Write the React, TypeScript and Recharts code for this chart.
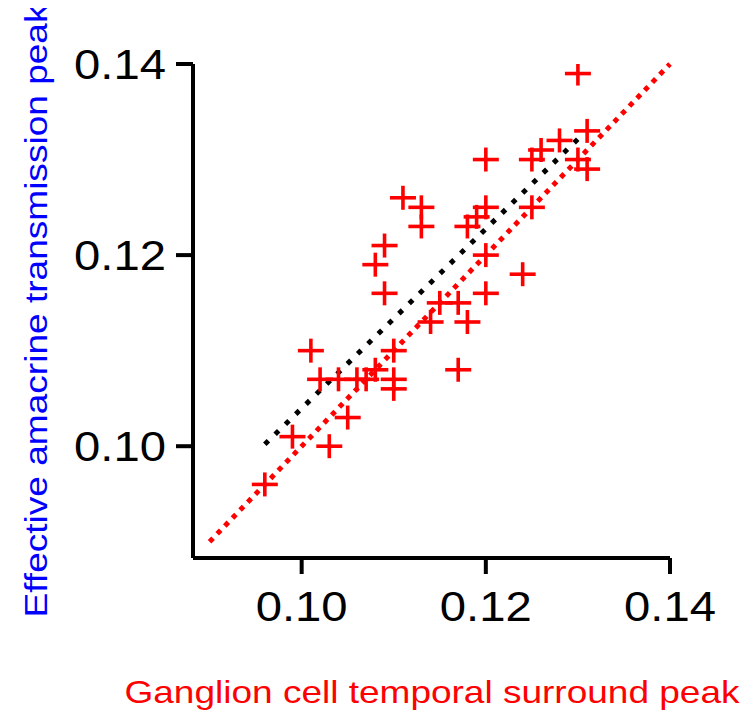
import { ScatterChart, Scatter, XAxis, YAxis, ReferenceLine } from "recharts";

// ganglion cell temporal surround peak (x) vs effective amacrine transmission peak (y)
const xPeak = [
  0.130, 0.131, 0.128, 0.126, 0.125, 0.120, 0.130, 0.131, 0.125, 0.120,
  0.119, 0.118, 0.111, 0.113, 0.113, 0.109, 0.108, 0.120, 0.124, 0.109,
  0.120, 0.115, 0.117, 0.114, 0.118, 0.110, 0.117, 0.101, 0.102, 0.104,
  0.106, 0.107, 0.108, 0.110, 0.110, 0.105, 0.099, 0.103, 0.096,
];
const yPeak = [
  0.139, 0.133, 0.132, 0.131, 0.130, 0.130, 0.130, 0.129, 0.125, 0.125,
  0.124, 0.123, 0.126, 0.125, 0.123, 0.121, 0.119, 0.120, 0.118, 0.116,
  0.116, 0.115, 0.115, 0.113, 0.113, 0.110, 0.108, 0.110, 0.107, 0.107,
  0.107, 0.107, 0.108, 0.107, 0.106, 0.103, 0.101, 0.100, 0.096,
];

const axisTicks = [0.1, 0.12, 0.14];
const unityLine = [{ x: 0.09, y: 0.09 }, { x: 0.14, y: 0.14 }];
const fitLine = [{ x: 0.096, y: 0.1002 }, { x: 0.1307, y: 0.1328 }];

const points = xPeak.map((x, i) => ({ x, y: yPeak[i] }));

const font = "'Liberation Sans', Arial, sans-serif";

function Plus(props: any) {
  const { cx, cy } = props;
  return (
    <g stroke="#ff0000" strokeWidth={3.6}>
      <line x1={cx - 13} y1={cy} x2={cx + 13} y2={cy} />
      <line x1={cx} y1={cy - 12} x2={cx} y2={cy + 12} />
    </g>
  );
}

function XTick(props: any) {
  const { x, y, payload } = props;
  return (
    <text x={x} y={y + 30} textAnchor="middle" dominantBaseline="central" fontFamily={font}
      fontSize={42} fill="#000" textLength={92} lengthAdjust="spacingAndGlyphs">
      {payload.value.toFixed(2)}
    </text>
  );
}

function YTick(props: any) {
  const { x, y, payload } = props;
  return (
    <text x={x - 8} y={y} textAnchor="end" dominantBaseline="central" fontFamily={font}
      fontSize={42} fill="#000" textLength={92} lengthAdjust="spacingAndGlyphs">
      {payload.value.toFixed(2)}
    </text>
  );
}

export default function App() {
  return (
    <div style={{ width: 732, height: 702, position: "relative" }}>
      <ScatterChart width={732} height={702} margin={{ top: 56, right: 70, bottom: 52, left: 65 }}>
        <XAxis
          type="number"
          dataKey="x"
          domain={[0.0882, 0.14]}
          ticks={axisTicks}
          allowDataOverflow
          height={100}
          axisLine={{ stroke: "#000", strokeWidth: 4 }}
          tickLine={{ stroke: "#000", strokeWidth: 4 }}
          tickSize={16}
          tick={<XTick />}
        />
        <YAxis
          type="number"
          dataKey="y"
          domain={[0.0883, 0.14]}
          ticks={axisTicks}
          allowDataOverflow
          width={120}
          axisLine={{ stroke: "#000", strokeWidth: 4 }}
          tickLine={{ stroke: "#000", strokeWidth: 4 }}
          tickSize={17}
          tick={<YTick />}
        />
        <Scatter data={points} shape={<Plus />} isAnimationActive={false} />
        <ReferenceLine segment={unityLine} stroke="#ff0000" strokeWidth={5}
          strokeDasharray="5 6" ifOverflow="visible" />
        <ReferenceLine segment={fitLine} stroke="#000" strokeWidth={5}
          strokeDasharray="5 9.4" ifOverflow="visible" />
      </ScatterChart>
      <svg width={732} height={702} style={{ position: "absolute", left: 0, top: 0, pointerEvents: "none" }}>
        <text x={424} y={684} textAnchor="middle" dominantBaseline="central" fontFamily={font}
          fontSize={32} fill="#ff0000" textLength={615} lengthAdjust="spacingAndGlyphs">
          Ganglion cell temporal surround peak
        </text>
        <text x={28} y={303} textAnchor="middle" dominantBaseline="central" fontFamily={font}
          fontSize={32} fill="#0000ff" textLength={613} lengthAdjust="spacingAndGlyphs"
          transform="rotate(-90 28 303)">
          Effective amacrine transmission peak
        </text>
      </svg>
    </div>
  );
}
